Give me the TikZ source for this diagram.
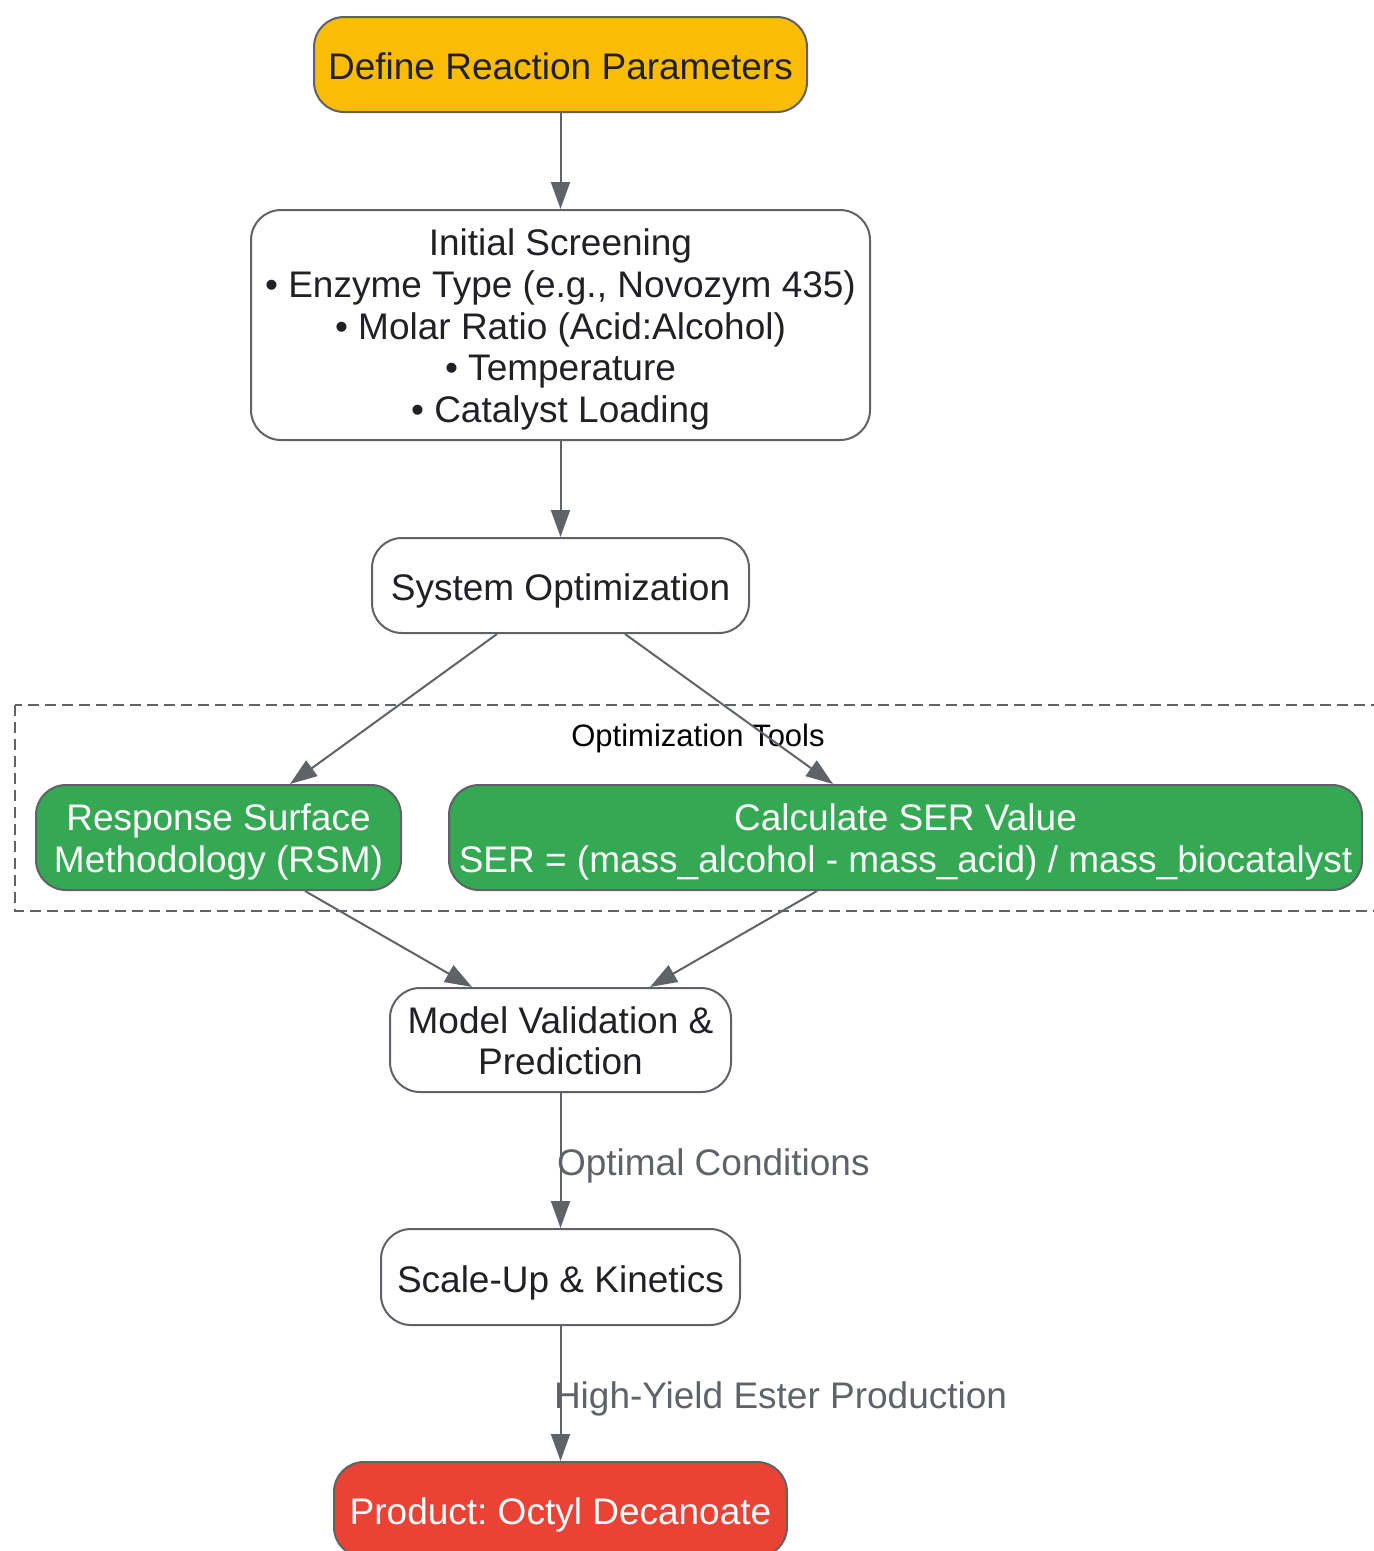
\documentclass[tikz,border=0pt]{standalone}
\usepackage{fontspec}
\setmainfont{Liberation Sans}
\usepackage{xcolor}
\usetikzlibrary{arrows.meta}
\definecolor{edgegray}{HTML}{5F6368}
\definecolor{textdark}{HTML}{202124}
\definecolor{gyellow}{HTML}{FBBC05}
\definecolor{ggreen}{HTML}{34A853}
\definecolor{gred}{HTML}{EA4335}
\newcommand{\topstrut}{\rule{0pt}{37pt}}
\frenchspacing

\begin{document}
\begin{tikzpicture}[x=1pt, y=-1pt,
	box/.style={shape=rectangle, rounded corners=30pt, draw=edgegray, line width=2pt, fill=white,
		text=textdark, align=center, inner sep=0pt, font=\fontsize{37}{41.7}\selectfont,
		execute at begin node={\rule[-9pt]{0pt}{48pt}}, execute at end node={\rule[-9pt]{0pt}{48pt}}},
	flow/.style={-{Triangle[length=27pt,width=19pt]}, draw=edgegray, color=edgegray, line width=2pt},
	flowlabel/.style={text=edgegray, anchor=west, inner sep=0pt, font=\fontsize{37}{41.7}\selectfont}]
	\useasboundingbox (0, 0) rectangle (1374, 1551);

	\draw[edgegray, line width=2pt, dash pattern=on 11pt off 6pt] (15, 705) rectangle (1385, 911);
	\node[font=\fontsize{31}{36}\selectfont] (tools) at (698, 738) {Optimization Tools};

	\node[box, fill=gyellow, minimum width=493pt, minimum height=95pt] (define) at (560.5, 64.5) {Define Reaction Parameters};
	\node[box, minimum width=619pt, minimum height=230pt] (screen) at (560.5, 325) {\topstrut Initial Screening\\• Enzyme Type (e.g., Novozym 435)\\• Molar Ratio (Acid:Alcohol)\\• Temperature\\• Catalyst Loading};
	\node[box, minimum width=377pt, minimum height=95pt] (sysopt) at (560.5, 585.5) {System Optimization};
	\node[box, fill=ggreen, text=white, minimum width=365pt, minimum height=105pt] (rsm) at (218.5, 837.5) {\topstrut Response Surface\\Methodology (RSM)};
	\node[box, fill=ggreen, text=white, minimum width=913pt, minimum height=105pt] (ser) at (905.5, 837.5) {\topstrut Calculate SER Value\\SER = (mass\_alcohol - mass\_acid) / mass\_biocatalyst};
	\node[box, minimum width=341pt, minimum height=104pt] (model) at (560.5, 1040) {\topstrut Model Validation \&\\Prediction};
	\node[box, minimum width=359pt, minimum height=96pt] (scale) at (560.5, 1277) {Scale-Up \& Kinetics};
	\node[box, fill=gred, text=white, minimum width=453pt, minimum height=95pt] (product) at (560.5, 1509.5) {Product: Octyl Decanoate};

	\draw[flow] (define) -- (screen);
	\draw[flow] (screen) -- (sysopt);
	\draw[flow] ([xshift=-63.5pt]sysopt.south) -- ([xshift=71.5pt]rsm.north);
	\draw[flow] ([xshift=64.5pt]sysopt.south) -- ([xshift=-72.5pt]ser.north);
	\draw[flow] ([xshift=86.5pt]rsm.south) -- ([xshift=-88.5pt]model.north);
	\draw[flow] ([xshift=-88.5pt]ser.south) -- ([xshift=89.5pt]model.north);
	\draw[flow] (model) -- node[flowlabel, xshift=-4.5pt, yshift=-5.5pt] (optlabel) {Optimal Conditions} (scale);
	\draw[flow] (scale) -- node[flowlabel, xshift=-7.5pt, yshift=-5.5pt] (yieldlabel) {High-Yield Ester Production} (product);

\end{tikzpicture}
\end{document}
